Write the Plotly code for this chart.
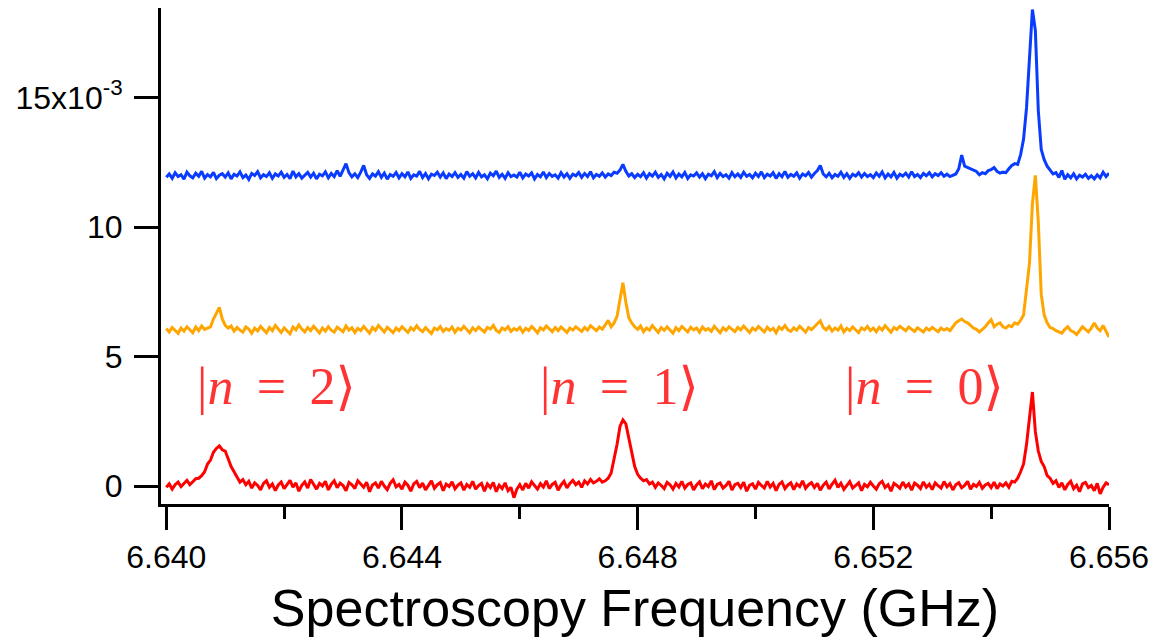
import numpy as np
import plotly.graph_objects as go

# Frequency sweep (GHz): 321 points from 6.640 to 6.656
freq = np.linspace(6.640, 6.656, 321)

# Signal values in units of 1e-3
blue_vals = [
    11.92, 12.05, 11.88, 12.10, 11.95, 12.02, 11.85, 12.12, 11.98, 11.90, 12.08, 11.96, 12.15, 11.89, 12.03, 11.94, 12.11, 11.87, 12.00, 12.06,
    11.93, 12.09, 11.86, 12.04, 11.97, 12.13, 11.91, 12.01, 11.84, 12.07, 11.99, 12.14, 11.90, 12.02, 11.95, 12.10, 11.88, 12.05, 11.97, 12.12,
    11.92, 12.03, 11.87, 12.16, 11.94, 12.06, 11.89, 12.00, 12.11, 11.93, 12.08, 11.86, 12.04, 11.98, 12.13, 11.90, 12.07, 11.95, 12.18, 11.96,
    12.22, 12.45, 12.10, 11.94, 12.06, 11.91, 12.12, 12.38, 12.02, 11.88, 12.05, 11.97, 12.14, 11.92, 12.08, 11.85, 12.03, 11.96, 12.11, 11.90,
    12.06, 11.94, 12.13, 11.88, 12.02, 11.97, 12.15, 11.91, 12.07, 11.86, 12.04, 11.99, 12.12, 11.93, 12.09, 11.87, 12.05, 11.95, 12.10, 11.92,
    12.03, 11.89, 12.14, 11.96, 12.06, 11.90, 12.11, 11.94, 12.02, 11.87, 12.08, 11.98, 12.16, 11.92, 12.04, 11.88, 12.10, 11.95, 12.01, 11.93,
    12.12, 11.90, 12.05, 11.97, 12.09, 11.86, 12.03, 11.94, 12.13, 11.91, 12.07, 11.96, 12.02, 11.89, 12.10, 11.93, 12.06, 11.88, 12.04, 11.98,
    12.11, 11.92, 12.07, 11.95, 12.14, 11.90, 12.03, 11.96, 12.09, 11.93, 12.05, 11.99, 12.12, 12.08, 12.20, 12.42, 12.15, 11.97, 12.06, 11.91,
    12.04, 11.95, 12.10, 11.89, 12.06, 11.97, 12.12, 11.92, 12.03, 11.86, 12.08, 11.96, 12.13, 11.90, 12.05, 11.94, 12.11, 11.88, 12.02, 11.97,
    12.09, 11.93, 12.06, 11.87, 12.04, 11.98, 12.14, 11.91, 12.07, 11.95, 12.02, 11.89, 12.10, 11.94, 12.05, 11.92, 12.12, 11.96, 12.03, 11.90,
    12.08, 11.95, 12.13, 11.91, 12.04, 11.97, 12.10, 11.88, 12.06, 11.94, 12.15, 11.92, 12.03, 11.96, 12.09, 11.89, 12.05, 11.98, 12.11, 11.93,
    12.07, 12.18, 12.38, 12.05, 11.94, 12.08, 11.90, 12.03, 11.96, 12.12, 11.92, 12.06, 11.88, 12.04, 11.97, 12.10, 11.93, 12.07, 11.95, 12.02,
    11.91, 12.09, 11.96, 12.13, 11.90, 12.05, 11.94, 12.11, 11.89, 12.04, 11.97, 12.08, 11.93, 12.14, 11.95, 12.03, 11.91, 12.07, 11.98, 12.10,
    11.94, 12.06, 11.99, 12.10, 11.96, 12.04, 11.95, 12.00, 12.05, 12.25, 12.78, 12.35, 12.30, 12.28, 12.20, 12.15, 12.02, 12.10, 12.06, 12.18,
    12.22, 12.30, 12.15, 12.08, 12.12, 12.10, 12.25, 12.38, 12.45, 12.42, 12.80, 13.40, 14.60, 16.40, 18.40, 17.60, 14.50, 13.00, 12.60, 12.35,
    12.20, 12.05, 12.10, 11.92, 12.18, 11.85, 12.02, 11.90, 12.06, 11.86, 12.00, 11.93, 12.04, 11.88, 11.98, 11.86, 12.02, 11.90, 12.12, 11.95,
    12.08,
]

orange_vals = [
    6.08, 5.95, 6.12, 6.02, 5.90, 6.10, 5.98, 6.15, 6.03, 5.92, 6.14, 6.00, 6.18, 6.05, 6.10, 6.15, 6.45, 6.70, 6.90, 6.45,
    6.20, 6.10, 6.18, 5.98, 6.12, 6.02, 5.94, 6.14, 6.06, 5.90, 6.10, 5.99, 6.16, 6.04, 5.92, 6.12, 6.00, 6.20, 6.05, 5.93,
    6.11, 6.01, 5.88, 6.14, 6.03, 6.22, 6.06, 5.95, 6.12, 6.00, 6.17, 6.04, 5.91, 6.10, 5.98, 6.15, 6.02, 5.94, 6.13, 6.05,
    5.96, 6.18, 6.02, 6.11, 5.93, 6.09, 6.00, 6.16, 6.04, 5.90, 6.12, 6.01, 6.20, 6.06, 5.95, 6.13, 6.03, 5.92, 6.10, 6.00,
    6.15, 6.04, 5.93, 6.11, 6.02, 6.19, 6.05, 5.96, 6.12, 6.00, 5.89, 6.10, 6.03, 6.16, 5.97, 6.08, 6.01, 6.14, 5.94, 6.09,
    6.02, 6.17, 6.05, 5.92, 6.11, 6.00, 6.14, 6.04, 5.95, 6.12, 6.06, 6.20, 6.01, 5.93, 6.10, 6.03, 6.15, 5.97, 6.08, 6.02,
    6.13, 5.94, 6.09, 6.01, 6.16, 6.05, 5.91, 6.11, 6.03, 6.18, 6.06, 5.96, 6.12, 6.00, 6.14, 6.04, 5.93, 6.10, 6.02, 6.15,
    6.05, 5.97, 6.12, 6.02, 6.19, 6.08, 6.00, 6.14, 6.06, 6.22, 6.40, 6.15, 6.30, 6.55, 7.20, 7.85, 7.10, 6.50, 6.30, 6.15,
    6.05, 6.18, 5.96, 6.10, 6.02, 6.20, 6.06, 5.93, 6.12, 6.01, 6.15, 6.04, 5.90, 6.11, 6.00, 6.16, 6.05, 5.95, 6.13, 6.03,
    6.10, 5.94, 6.14, 6.02, 6.08, 5.97, 6.17, 6.04, 5.92, 6.11, 6.01, 6.15, 6.06, 5.96, 6.12, 6.03, 6.18, 6.05, 5.93, 6.10,
    6.02, 6.16, 6.04, 5.95, 6.13, 6.01, 6.09, 5.92, 6.14, 6.05, 6.20, 6.03, 5.97, 6.11, 6.02, 6.17, 6.06, 5.94, 6.12, 6.04,
    6.15, 6.25, 6.38, 6.12, 6.03, 6.16, 5.98, 6.10, 6.02, 6.18, 5.95, 6.09, 6.01, 6.14, 6.04, 5.92, 6.11, 6.03, 6.16, 6.00,
    6.10, 5.96, 6.13, 6.02, 6.19, 6.06, 5.94, 6.12, 6.04, 6.17, 6.08, 6.00, 6.14, 6.05, 5.97, 6.11, 6.03, 5.95, 6.10, 6.02,
    6.12, 6.04, 5.96, 6.10, 6.02, 6.08, 6.00, 6.15, 6.30, 6.38, 6.45, 6.35, 6.30, 6.20, 6.10, 6.05, 5.95, 6.05, 6.15, 6.30,
    6.42, 6.15, 6.25, 6.30, 6.15, 6.10, 6.20, 6.15, 6.30, 6.25, 6.40, 6.60, 7.60, 8.60, 10.90, 12.00, 10.20, 7.40, 6.60, 6.30,
    6.12, 6.08, 6.00, 5.95, 5.90, 6.05, 6.15, 6.00, 5.95, 5.85, 6.00, 6.15, 6.05, 5.95, 6.10, 6.30, 6.10, 6.00, 6.20, 6.00,
    5.75,
]

red_vals = [
    -0.05, 0.08, -0.12, 0.05, 0.15, -0.02, 0.10, 0.22, 0.05, 0.18, 0.28, 0.30, 0.40, 0.55, 0.85, 1.00, 1.30, 1.45, 1.55, 1.40,
    1.35, 1.05, 0.75, 0.55, 0.35, 0.15, 0.25, 0.05, 0.18, -0.08, 0.12, 0.02, -0.15, 0.10, 0.20, -0.05, 0.08, -0.18, 0.04, 0.15,
    -0.10, 0.06, 0.22, -0.04, 0.12, -0.20, 0.03, 0.16, -0.08, 0.25, 0.05, -0.12, 0.10, 0.00, 0.18, -0.15, 0.07, 0.20, -0.06, 0.11,
    0.02, -0.18, 0.14, 0.05, -0.10, 0.20, 0.08, -0.05, 0.15, -0.22, 0.04, 0.12, -0.08, 0.18, 0.00, -0.14, 0.10, 0.24, -0.03, 0.06,
    -0.12, 0.15, 0.03, -0.20, 0.08, 0.18, -0.06, 0.11, -0.15, 0.02, 0.20, -0.09, 0.05, 0.13, -0.18, 0.07, -0.02, 0.16, -0.11, 0.04,
    0.12, -0.16, 0.06, -0.05, 0.18, -0.12, 0.02, 0.10, -0.20, 0.08, -0.06, 0.14, -0.22, 0.03, -0.10, 0.12, -0.18, -0.05, -0.45, -0.12,
    0.05, -0.15, 0.10, -0.08, 0.16, 0.02, -0.12, 0.09, -0.04, 0.20, -0.10, 0.06, 0.14, -0.16, 0.04, 0.18, -0.07, 0.10, 0.22, 0.05,
    0.15, -0.05, 0.20, 0.08, 0.25, 0.12, 0.18, 0.28, 0.15, 0.20, 0.30, 0.50, 1.00, 1.60, 2.30, 2.55, 2.40, 1.80, 1.20, 0.75,
    0.45, 0.30, 0.20, 0.25, 0.08, 0.15, -0.05, 0.12, 0.02, -0.10, 0.14, 0.05, -0.12, 0.10, -0.04, 0.18, -0.08, 0.06, 0.12, -0.15,
    0.04, 0.16, -0.10, 0.08, -0.02, 0.20, -0.14, 0.06, 0.12, -0.08, 0.02, 0.18, -0.16, 0.05, 0.10, -0.06, 0.15, -0.20, 0.03, 0.09,
    -0.12, 0.14, 0.02, -0.08, 0.18, -0.04, 0.10, -0.18, 0.06, 0.16, -0.10, 0.04, 0.12, -0.14, 0.08, -0.02, 0.20, -0.09, 0.05, 0.13,
    -0.06, 0.10, -0.16, 0.03, 0.15, -0.11, 0.07, 0.22, -0.05, 0.11, -0.13, 0.04, 0.17, -0.08, 0.02, 0.12, -0.18, 0.06, -0.03, 0.14,
    0.00, -0.12, 0.09, 0.18, -0.06, 0.05, -0.20, 0.10, 0.02, -0.09, 0.15, -0.04, 0.08, -0.16, 0.11, 0.03, -0.10, 0.16, -0.05, 0.07,
    -0.14, 0.12, 0.01, -0.08, 0.17, -0.03, 0.09, -0.15, 0.05, 0.13, -0.07, 0.02, 0.18, -0.12, 0.06, -0.02, 0.14, -0.09, 0.04, 0.10,
    -0.06, 0.15, -0.10, 0.08, 0.00, 0.12, -0.05, 0.18, 0.15, 0.30, 0.55, 0.85, 1.60, 2.70, 3.63, 2.10, 1.35, 0.95, 0.75, 0.40,
    0.30, 0.10, 0.20, -0.05, 0.12, -0.15, 0.06, 0.18, -0.10, 0.03, -0.22, 0.08, 0.14, -0.06, 0.02, -0.18, 0.10, -0.30, -0.05, 0.12,
    0.05,
]

x_tick_vals = [6.640, 6.644, 6.648, 6.652, 6.656]
x_tick_text = ["6.640", "6.644", "6.648", "6.652", "6.656"]
y_tick_vals = [0, 5, 10, 15]
y_tick_text = ["0", "5", "10", "15x10<sup>-3</sup>"]

state_labels = ["|<i>n</i>\u2009 = \u20092\u27e9", "|<i>n</i>\u2009 = \u20091\u27e9", "|<i>n</i>\u2009 = \u20090\u27e9"]
state_x = [6.641875, 6.647686, 6.652861]
state_y = [3.84, 3.84, 3.84]

fig = go.Figure()
for vals, color in [(red_vals, "#ff0000"), (orange_vals, "#ffa500"), (blue_vals, "#0a3cff")]:
    fig.add_trace(go.Scatter(x=freq, y=vals, mode="lines",
                             line=dict(color=color, width=3), showlegend=False))

for txt, xx, yy in zip(state_labels, state_x, state_y):
    fig.add_annotation(x=xx, y=yy, text=txt, showarrow=False,
                       xanchor="center", yanchor="middle",
                       font=dict(family="Liberation Serif, DejaVu Serif, serif", size=52, color="#ff3333"))

fig.update_layout(
    width=1175, height=639,
    margin=dict(l=153, r=74, t=0, b=143),
    plot_bgcolor="white", paper_bgcolor="white",
    font=dict(family="Liberation Sans, Arial, sans-serif", color="black"),
)
fig.update_xaxes(
    range=[6.63991, 6.656], showgrid=False, zeroline=False,
    showline=True, linecolor="black", linewidth=3,
    ticks="outside", ticklen=23, tickwidth=3, tickcolor="black",
    tickvals=x_tick_vals, ticktext=x_tick_text,
    tickfont=dict(size=32), ticklabelstandoff=0,
    minor=dict(ticks="outside", ticklen=12, tickwidth=3, tickcolor="black", dtick=0.002, tick0=6.640, showgrid=False),
    title=dict(text="Spectroscopy Frequency (GHz)", font=dict(size=52), standoff=16),
)
fig.update_yaxes(
    range=[-0.695, 18.46], showgrid=False, zeroline=False,
    showline=True, linecolor="black", linewidth=3,
    ticks="outside", ticklen=24, tickwidth=3, tickcolor="black",
    tickvals=y_tick_vals, ticktext=y_tick_text,
    tickfont=dict(size=32), ticklabelstandoff=5,
)

fig.write_html("out.html")
